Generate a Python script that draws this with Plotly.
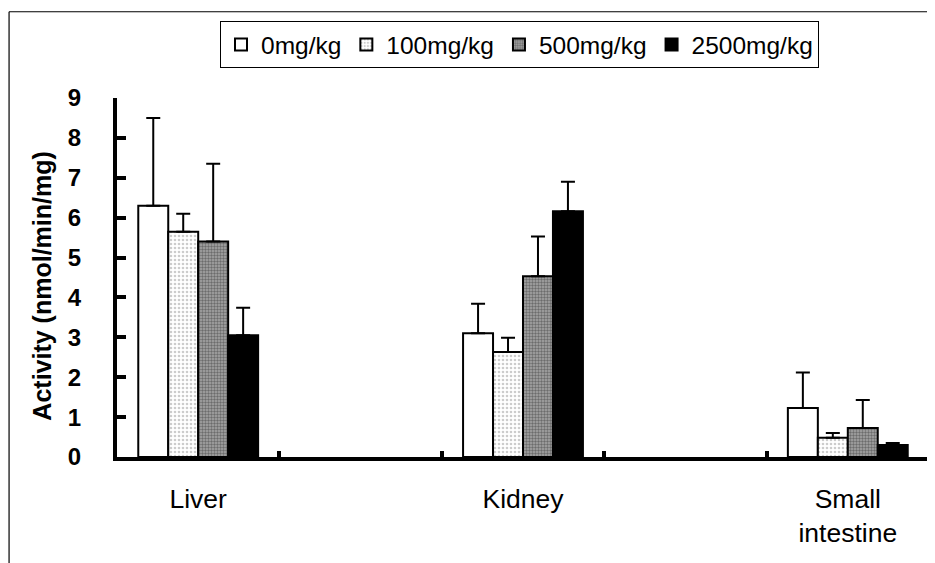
import plotly.graph_objects as go

# ---- data ----
categories = ["Liver", "Kidney", "Small<br>intestine"]
doses = ["0mg/kg", "100mg/kg", "500mg/kg", "2500mg/kg"]
mean_0 = [6.30, 3.10, 1.23]
mean_100 = [5.65, 2.63, 0.48]
mean_500 = [5.40, 4.53, 0.73]
mean_2500 = [3.05, 6.16, 0.30]
sd_0 = [2.20, 0.74, 0.89]
sd_100 = [0.45, 0.36, 0.12]
sd_500 = [1.95, 1.00, 0.70]
sd_2500 = [0.69, 0.74, 0.05]
y_ticks = list(range(0, 10))

means = [mean_0, mean_100, mean_500, mean_2500]
sds = [sd_0, sd_100, sd_500, sd_2500]

# category slots: real categories sit on every other slot (blank slots between)
xpos = [2 * i for i in range(len(categories))]
boundaries = [i + 0.5 for i in range(2 * len(categories) - 1)]

styles = [
    dict(color="white"),
    dict(color="white", pattern=dict(shape=".", fgcolor="#9a9a9a", bgcolor="white",
                                     size=4, solidity=0.35)),
    dict(color="#858585", pattern=dict(shape=".", fgcolor="#303030", bgcolor="#a8a8a8",
                                       size=3, solidity=0.5)),
    dict(color="black"),
]

FONT = "Liberation Sans, Arial, sans-serif"

fig = go.Figure()
for name, m, s, st in zip(doses, means, sds, styles):
    fig.add_trace(go.Bar(
        x=xpos, y=m, name=name,
        marker=dict(**st, line=dict(color="black", width=2)),
        error_y=dict(type="data", array=s, arrayminus=[0] * len(s), symmetric=False,
                     color="black", thickness=2, width=7),
    ))

# page offset of the plot div (default body margin) is compensated here
OFF = 8
SW, SH = 935, 563                  # screen size
W, H = SW - OFF, SH - OFF          # figure size
# plot area in screen pixels
PL, PR, PT, PB = 117, 929.5, 98.3, 457.5
L, T = PL - OFF, PT - OFF
R, B = W - (PR - OFF), H - (PB - OFF)
pw = PR - PL
ph = PB - PT

def px(x):
    return (x - PL) / pw

def py(y):
    return (PB - y) / ph

fig.update_layout(
    width=W, height=H,
    margin=dict(l=L, r=R, t=T, b=B, pad=0, autoexpand=False),
    paper_bgcolor="white", plot_bgcolor="white",
    barmode="group", bargap=0.631, bargroupgap=0,
    font=dict(family=FONT, color="black"),
    showlegend=True,
    legend=dict(orientation="h", xref="container", yref="container",
                x=(220 - OFF) / W, y=1 - (21 - OFF) / H, xanchor="left", yanchor="top",
                bordercolor="black", borderwidth=1, bgcolor="white",
                font=dict(size=24.5, family=FONT), itemwidth=30, traceorder="normal"),
    xaxis=dict(
        range=[-0.5, 2 * len(categories) - 1.5], automargin=False,
        tickmode="array", tickvals=xpos, ticktext=categories,
        ticks="", showgrid=False, zeroline=False,
        showline=True, linecolor="black", linewidth=4,
        tickfont=dict(size=26.5, family=FONT),
        ticklabelstandoff=15,
        minor=dict(tickmode="array", tickvals=boundaries, ticks="inside",
                   ticklen=6, tickwidth=4, tickcolor="black", showgrid=False),
    ),
    yaxis=dict(
        range=[0, 9], tickmode="array", tickvals=y_ticks, automargin=False,
        ticks="inside", ticklen=9, tickwidth=4, tickcolor="black",
        showgrid=False, zeroline=False,
        showline=True, linecolor="black", linewidth=4,
        tickfont=dict(size=24, family=FONT, weight="bold"),
        ticklabelstandoff=27,
    ),
    annotations=[dict(
        text="Activity (nmol/min/mg)", textangle=-90,
        xref="paper", yref="paper", x=px(42), y=py(287),
        xanchor="center", yanchor="middle", showarrow=False,
        font=dict(size=25, family=FONT, weight="bold"),
    )],
    shapes=[
        dict(type="line", xref="paper", yref="paper", x0=px(9), x1=px(9),
             y0=py(12), y1=py(575), line=dict(color="black", width=1.2)),
        dict(type="line", xref="paper", yref="paper", x0=px(9), x1=px(945),
             y0=py(12), y1=py(12), line=dict(color="black", width=1.2)),
    ],
)

fig.write_html("out.html")
